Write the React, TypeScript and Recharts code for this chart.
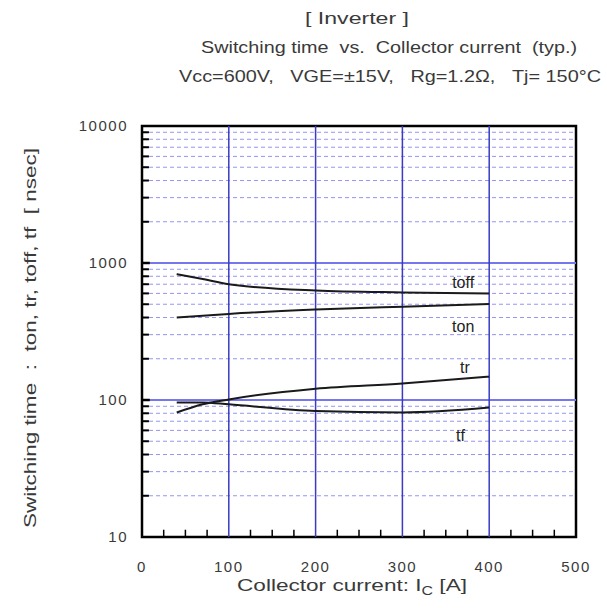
import React from "react"
import {
  LineChart,
  Line,
  XAxis,
  YAxis,
  ReferenceLine,
  ReferenceArea,
  ReferenceDot,
} from "recharts"

// collector current [A]
const current = [40, 70, 100, 200, 300, 400]
// switching times [nsec]
const toff = [830, 764, 700, 630, 610, 600]
const ton = [400, 412, 425, 457, 480, 502]
const tr = [81, 93, 101, 121, 132, 148]
const tf = [96, 96, 93, 83, 81, 88]

const xMajor = [0, 100, 200, 300, 400, 500]
const xMinor = [25, 50, 75, 125, 150, 175, 225, 250, 275, 325, 350, 375, 425, 450, 475]
const yMajor = [10, 100, 1000, 10000]
const yMinor = [20, 30, 40, 50, 60, 70, 80, 90, 200, 300, 400, 500, 600, 700, 800, 900, 2000, 3000, 4000, 5000, 6000, 7000, 8000, 9000]

const curveLabels = [
  { name: "toff", x: 370, y: 727 },
  { name: "ton", x: 370, y: 347 },
  { name: "tr", x: 372, y: 174 },
  { name: "tf", x: 367, y: 55 },
]

const data = current.map((ic, i) => ({
  ic,
  toff: toff[i],
  ton: ton[i],
  tr: tr[i],
  tf: tf[i],
}))

const font = "'Liberation Sans', Arial, sans-serif"
const textColor = "#3a3a3a"
const tickText = { fontFamily: font, fontSize: 15, fill: textColor, letterSpacing: 1.5 }

const XLabel = (props: any) => {
  const { viewBox } = props
  const cx = viewBox.x + viewBox.width / 2 - 7
  return (
    <text
      x={cx}
      y={591}
      textAnchor="middle"
      fontFamily={font}
      fontSize={17}
      fill={textColor}
      style={{ whiteSpace: "pre" }}
      textLength={230}
      lengthAdjust="spacingAndGlyphs"
    >
      Collector current: I
      <tspan fontSize={12} dy={4}>C</tspan>
      <tspan dy={-4}> [A]</tspan>
    </text>
  )
}

const titleProps = {
  fontFamily: font,
  fontSize: 17,
  fill: textColor,
  textAnchor: "middle" as const,
  lengthAdjust: "spacingAndGlyphs",
  style: { whiteSpace: "pre" as const },
}

export default function App() {
  return (
    <div style={{ position: "absolute", left: 0, top: 0, width: 607, height: 608, background: "#fff" }}>
      <LineChart
        width={607}
        height={608}
        data={data}
        margin={{ top: 126, right: 31, bottom: 41, left: 82 }}
        style={{ position: "absolute", left: 0, top: 0 }}
      >
        <XAxis
          dataKey="ic"
          type="number"
          domain={[0, 500]}
          ticks={xMajor}
          interval={0}
          height={30}
          tickLine={false}
          axisLine={false}
          tickSize={0}
          tickMargin={24}
          tick={tickText}
          label={<XLabel />}
        />
        <YAxis
          scale="log"
          domain={[10, 10000]}
          ticks={yMajor}
          interval={0}
          allowDataOverflow
          width={60}
          tickLine={false}
          axisLine={false}
          tickSize={0}
          tickMargin={14}
          tick={tickText}
        />
        {yMinor.map((v) => (
          <ReferenceLine
            key={"m" + v}
            y={v}
            stroke="#7a7aee"
            strokeWidth={1}
            strokeDasharray="4 3"
            strokeDashoffset={-7}
            strokeOpacity={0.8}
          />
        ))}
        {[100, 1000].map((v) => (
          <ReferenceLine key={"h" + v} y={v} stroke="#7676ee" strokeWidth={2} />
        ))}
        {[100, 200, 300, 400].map((v) => (
          <ReferenceLine key={"v" + v} x={v} stroke="#3a3ac4" strokeWidth={1.5} />
        ))}
        {/* minor tick marks pointing into the plot */}
        {yMinor.map((v) => (
          <ReferenceLine
            key={"yt" + v}
            segment={[{ x: 0, y: v }, { x: 8, y: v }]}
            stroke="#000"
            strokeWidth={2}
          />
        ))}
        {yMajor.slice(1, 3).map((v) => (
          <ReferenceLine
            key={"ytM" + v}
            segment={[{ x: 0, y: v }, { x: 9, y: v }]}
            stroke="#000"
            strokeWidth={2.5}
          />
        ))}
        {xMinor.map((v) => (
          <ReferenceLine
            key={"xt" + v}
            segment={[{ x: v, y: 10 }, { x: v, y: 11.3 }]}
            stroke="#000"
            strokeWidth={1.5}
          />
        ))}
        <ReferenceArea
          x1={0}
          x2={500}
          y1={10}
          y2={10000}
          fill="none"
          stroke="#000"
          strokeWidth={2.5}
          fillOpacity={0}
        />
        {["toff", "ton", "tr", "tf"].map((k) => (
          <Line
            key={k}
            dataKey={k}
            type="monotone"
            stroke="#1a1a1a"
            strokeWidth={2}
            dot={false}
            isAnimationActive={false}
          />
        ))}
        {curveLabels.map((c) => (
          <ReferenceDot
            key={c.name}
            x={c.x}
            y={c.y}
            r={0}
            fill="none"
            stroke="none"
            label={{
              value: c.name,
              position: "center",
              fontFamily: font,
              fontSize: 16,
              fill: "#222",
            }}
          />
        ))}
      </LineChart>
      <svg
        width={607}
        height={608}
        style={{ position: "absolute", left: 0, top: 0, pointerEvents: "none" }}
      >
        <text {...titleProps} x={357} y={24} textLength={104}>[ Inverter ]</text>
        <text {...titleProps} x={389} y={53} textLength={376}>Switching time  vs.  Collector current  (typ.)</text>
        <text {...titleProps} x={390} y={82} textLength={422}>Vcc=600V,   VGE=±15V,   Rg=1.2Ω,   Tj= 150°C</text>
        <text
          {...titleProps}
          x={0}
          y={0}
          textLength={380}
          transform="translate(36, 338) rotate(-90)"
        >
          Switching time  :  ton, tr, toff, tf  [ nsec]
        </text>
      </svg>
    </div>
  )
}
